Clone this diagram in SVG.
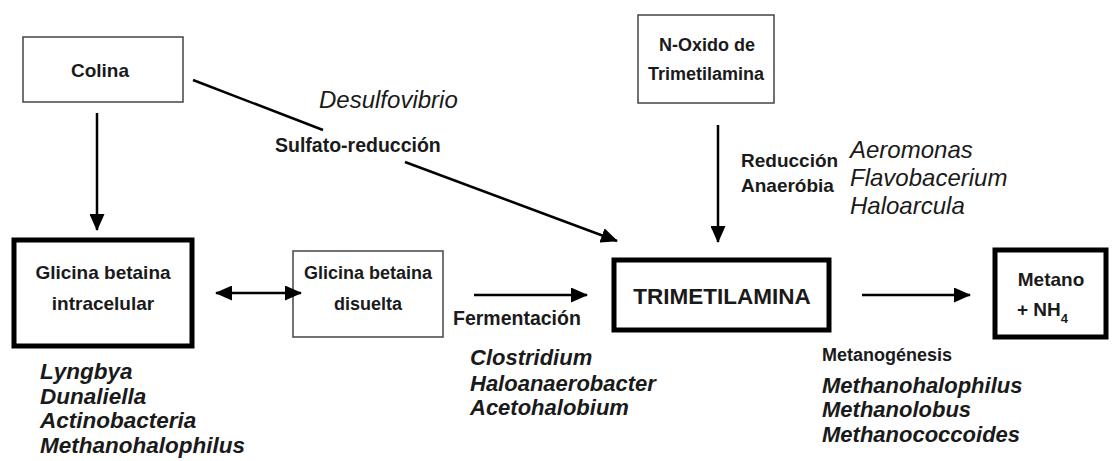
<svg xmlns="http://www.w3.org/2000/svg" width="1116" height="461" viewBox="0 0 1116 461">
<style>
.lbl{font-family:"Liberation Sans",Arial,sans-serif;font-weight:bold;fill:#1a1a1a;font-size:19px}
.it{font-family:"Liberation Sans",Arial,sans-serif;font-style:italic;fill:#1a1a1a;font-size:24px}
.itb{font-family:"Liberation Sans",Arial,sans-serif;font-style:italic;font-weight:bold;fill:#1a1a1a;font-size:22px}
.thin{fill:#fff;stroke:#444;stroke-width:1.5}
.thick{fill:#fff;stroke:#000;stroke-width:5}
.con{stroke:#000;stroke-width:2.5;fill:none}
</style>
<defs>
<marker id="ah" markerUnits="userSpaceOnUse" markerWidth="17" markerHeight="15" refX="16" refY="7.5" orient="auto-start-reverse">
<path d="M0,0 L17,7.5 L0,15 Z" fill="#000"/>
</marker>
</defs>
<rect width="1116" height="461" fill="#fff"/>
<g id="colina">
<rect class="thin" x="23" y="37" width="160" height="65"/>
<text class="lbl" x="100" y="77" text-anchor="middle">Colina</text>
</g>
<g id="noxido">
<rect class="thin" x="638" y="15" width="136" height="88"/>
<text class="lbl" x="707" y="51" text-anchor="middle" style="font-size:18px">N-Oxido de</text>
<text class="lbl" x="706" y="80" text-anchor="middle" style="font-size:18px">Trimetilamina</text>
</g>
<g id="glicina-intra">
<rect class="thick" x="14" y="240" width="178" height="106"/>
<text class="lbl" x="103" y="279" text-anchor="middle">Glicina betaina</text>
<text class="lbl" x="103" y="310" text-anchor="middle">intracelular</text>
</g>
<g id="glicina-dis">
<rect class="thin" x="293" y="251" width="150" height="86"/>
<text class="lbl" x="368" y="279" text-anchor="middle" style="font-size:18px">Glicina betaina</text>
<text class="lbl" x="368" y="310" text-anchor="middle" style="font-size:18px">disuelta</text>
</g>
<g id="tma">
<rect class="thick" x="614" y="260" width="215" height="70"/>
<text class="lbl" x="722" y="304" text-anchor="middle" style="font-size:22.5px">TRIMETILAMINA</text>
</g>
<g id="metano">
<rect class="thick" x="995" y="250" width="111" height="87"/>
<text class="lbl" x="1051" y="286" text-anchor="middle">Metano</text>
<text class="lbl" x="1017" y="316">+ NH<tspan dy="7" style="font-size:13px">4</tspan></text>
</g>
<g id="connectors">
<line class="con" x1="97" y1="113" x2="97" y2="230" marker-end="url(#ah)"/>
<line class="con" x1="193" y1="80" x2="323" y2="130"/>
<line class="con" x1="405" y1="162" x2="617" y2="241" marker-end="url(#ah)"/>
<line class="con" x1="718" y1="125" x2="718" y2="242" marker-end="url(#ah)"/>
<line class="con" x1="216" y1="293" x2="301" y2="293" marker-start="url(#ah)" marker-end="url(#ah)"/>
<line class="con" x1="474" y1="295" x2="587" y2="295" marker-end="url(#ah)"/>
<line class="con" x1="862" y1="295" x2="970" y2="295" marker-end="url(#ah)"/>
</g>
<g id="labels">
<text class="it" x="319" y="108">Desulfovibrio</text>
<text class="lbl" x="275" y="152" style="font-size:19.5px">Sulfato-reducción</text>
<text class="lbl" x="741" y="167">Reducción</text>
<text class="lbl" x="741" y="192">Anaeróbia</text>
<text class="it" x="850" y="158">Aeromonas</text>
<text class="it" x="850" y="186">Flavobacerium</text>
<text class="it" x="850" y="214">Haloarcula</text>
<text class="lbl" x="453" y="325" style="font-size:19.5px">Fermentación</text>
<text class="lbl" x="822" y="361" style="font-size:18px">Metanogénesis</text>
<text class="itb" x="40" y="379" style="font-size:22.5px">Lyngbya</text>
<text class="itb" x="40" y="404" style="font-size:22.5px">Dunaliella</text>
<text class="itb" x="40" y="428" style="font-size:22.5px">Actinobacteria</text>
<text class="itb" x="40" y="453" style="font-size:22.5px">Methanohalophilus</text>
<text class="itb" x="470" y="365">Clostridium</text>
<text class="itb" x="470" y="391">Haloanaerobacter</text>
<text class="itb" x="470" y="415">Acetohalobium</text>
<text class="itb" x="822" y="393">Methanohalophilus</text>
<text class="itb" x="822" y="417">Methanolobus</text>
<text class="itb" x="822" y="442">Methanococcoides</text>
</g>
</svg>
